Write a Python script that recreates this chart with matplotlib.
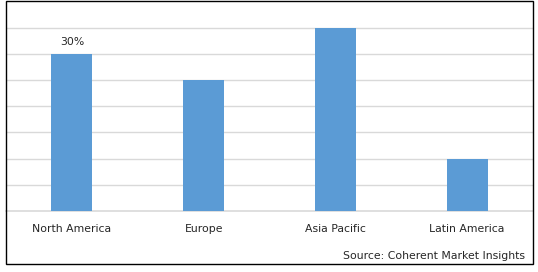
import matplotlib.pyplot as plt
from matplotlib.patches import Rectangle

regions = ["North America", "Europe", "Asia Pacific", "Latin America"]
share = [30, 25, 35, 10]
shown_labels = {0: "30%"}

W, H = 538, 272

fig = plt.figure(figsize=(W / 100, H / 100), dpi=100)
fig.patch.set_facecolor("white")

# plot area in pixel terms: x 6..533, y 1.4 (40%) .. 211 (0%)
ax = fig.add_axes([6 / W, 1 - 211 / H, 527 / W, (211 - 1.4) / H])
ax.bar(range(len(regions)), share, width=0.31, color="#5B9BD5", zorder=3)
ax.set_xlim(-0.5, len(regions) - 0.5)
ax.set_ylim(0, 40)
ax.set_yticks(range(5, 40, 5))
ax.yaxis.grid(True, color="#D9D9D9", linewidth=1)
ax.axhline(0, color="#D9D9D9", linewidth=1.2, clip_on=False, zorder=2)
ax.tick_params(left=False, labelleft=False, bottom=False, labelbottom=False)
for s in ax.spines.values():
    s.set_visible(False)

for i, name in enumerate(regions):
    ax.annotate(name, (i, 0), xytext=(0, -18), textcoords="offset pixels",
                ha="center", va="center", fontsize=7.8, color="#262626")
for i, txt in shown_labels.items():
    ax.annotate(txt, (i, share[i]), xytext=(0, 12), textcoords="offset pixels",
                ha="center", va="center", fontsize=7.8, color="#262626")

fig.text(525 / W, 1 - 256 / H, "Source: Coherent Market Insights",
         ha="right", va="center", fontsize=7.8, color="#262626")

# outer chart border
fig.patches.append(Rectangle((6 / W, 1 - 264 / H), 526.5 / W, 263 / H,
                             transform=fig.transFigure, fill=False,
                             edgecolor="black", linewidth=1.0))

fig.savefig("out.png", dpi=100)
